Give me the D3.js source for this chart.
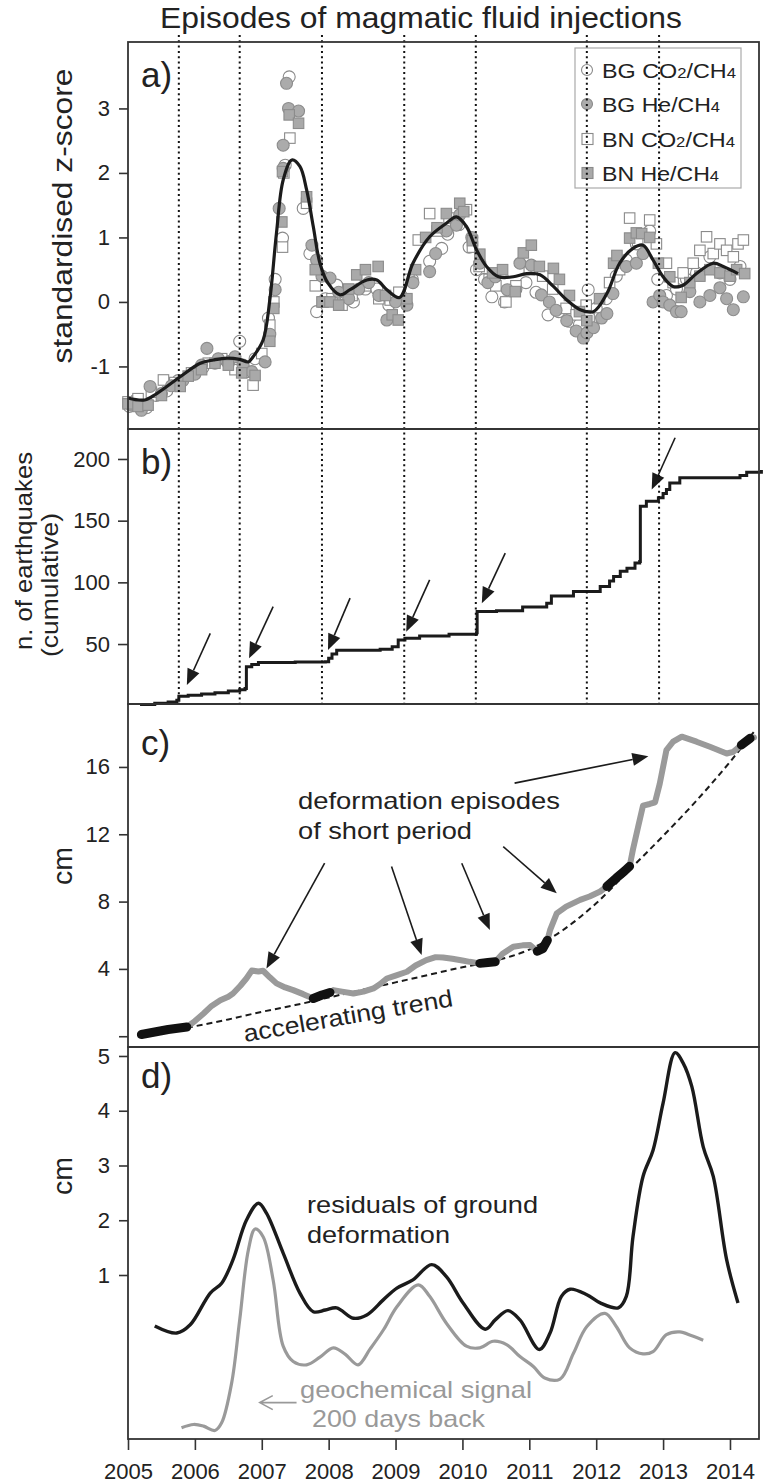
<!DOCTYPE html>
<html><head><meta charset="utf-8">
<script src="https://cdn.jsdelivr.net/npm/d3@7"></script>
<style>body{margin:0;background:#fff} svg text{font-family:"Liberation Sans",Arial,sans-serif;fill:#222}</style>
</head><body><svg id="c" width="773" height="1484"></svg>
<script>
// ---------- DATA ----------
const yearTicks = [2005,2006,2007,2008,2009,2010,2011,2012,2013,2014];
const zTicks = [-1,0,1,2,3];
const quakeTicks = [50,100,150,200];
const cmTicksC = [4,8,12,16];
const cmTicksD = [1,2,3,4,5];
const injections = [2005.76,2006.67,2007.90,2009.13,2010.20,2011.86,2012.94];

const bgCO2 = [[2005.02,-1.62],[2005.12,-1.52],[2005.28,-1.64],[2005.42,-1.45],[2005.58,-1.38],[2005.75,-1.22],[2005.95,-1.12],[2006.12,-1.02],[2006.3,-0.95],[2006.48,-0.92],[2006.62,-1.02],[2006.67,-0.61],[2006.78,-1.08],[2006.9,-0.88],[2007.1,-0.25],[2007.2,0.35],[2007.31,0.99],[2007.35,2.12],[2007.41,3.49],[2007.62,1.45],[2007.72,0.75],[2007.82,-0.15],[2007.95,0.05],[2008.12,0.26],[2008.25,0.1],[2008.37,0.0],[2008.55,0.2],[2008.72,0.2],[2008.9,-0.05],[2009.08,0.1],[2009.25,0.35],[2009.51,0.63],[2009.69,0.83],[2009.78,1.05],[2009.95,1.2],[2010.1,0.85],[2010.21,0.5],[2010.33,0.35],[2010.44,0.08],[2010.63,0.0],[2010.8,0.2],[2010.95,0.3],[2011.1,0.15],[2011.28,-0.2],[2011.44,-0.15],[2011.6,-0.3],[2011.75,-0.35],[2011.88,0.19],[2012.0,-0.1],[2012.15,0.05],[2012.3,0.4],[2012.45,0.65],[2012.6,0.9],[2012.8,1.1],[2012.92,0.35],[2013.05,0.1],[2013.2,0.2],[2013.35,0.35],[2013.5,0.45],[2013.7,0.7],[2013.85,0.45],[2014.0,0.35],[2014.15,0.55]];
const bgHe = [[2005.05,-1.6],[2005.2,-1.68],[2005.33,-1.31],[2005.5,-1.42],[2005.65,-1.3],[2005.82,-1.22],[2006.0,-1.12],[2006.1,-0.98],[2006.18,-0.72],[2006.35,-0.88],[2006.5,-0.95],[2006.6,-0.85],[2006.72,-0.98],[2006.85,-1.08],[2007.05,-0.93],[2007.12,-0.5],[2007.2,0.19],[2007.26,1.45],[2007.32,2.07],[2007.32,2.43],[2007.37,3.39],[2007.40,3.0],[2007.55,2.96],[2007.75,0.88],[2007.82,0.65],[2007.9,0.4],[2008.02,0.37],[2008.15,0.15],[2008.3,0.05],[2008.45,0.2],[2008.6,0.3],[2008.75,0.1],[2008.87,-0.28],[2009.0,0.0],[2009.17,-0.05],[2009.26,0.3],[2009.51,0.47],[2009.6,0.75],[2009.76,1.1],[2009.91,1.19],[2009.96,1.35],[2010.14,1.0],[2010.26,0.6],[2010.38,0.3],[2010.49,0.39],[2010.67,0.19],[2010.86,0.6],[2011.03,0.57],[2011.18,0.11],[2011.30,0.0],[2011.40,-0.13],[2011.56,-0.29],[2011.7,-0.45],[2011.81,-0.56],[2011.86,-0.48],[2011.96,-0.4],[2012.08,-0.25],[2012.16,-0.18],[2012.25,0.13],[2012.45,0.55],[2012.6,0.6],[2012.7,0.75],[2012.85,0.0],[2012.95,0.1],[2013.0,0.0],[2013.1,-0.05],[2013.20,-0.15],[2013.27,-0.15],[2013.4,0.16],[2013.55,0.0],[2013.7,0.1],[2013.85,0.22],[2013.95,0.05],[2014.05,-0.12],[2014.2,0.08]];
const bnCO2 = [[2005.0,-1.55],[2005.15,-1.5],[2005.35,-1.4],[2005.53,-1.21],[2005.7,-1.25],[2005.95,-1.1],[2006.2,-0.95],[2006.4,-0.88],[2006.6,-1.05],[2006.87,-1.29],[2007.0,-0.8],[2007.12,-0.36],[2007.18,0.0],[2007.31,0.85],[2007.33,2.0],[2007.42,2.54],[2007.67,1.53],[2007.8,0.25],[2007.92,0.0],[2008.05,0.05],[2008.2,-0.05],[2008.35,0.1],[2008.55,0.25],[2008.75,0.05],[2008.92,0.03],[2009.05,0.15],[2009.2,0.35],[2009.34,0.96],[2009.51,1.37],[2009.62,1.1],[2009.8,1.3],[2009.9,1.2],[2010.06,1.43],[2010.15,0.85],[2010.25,0.55],[2010.4,0.35],[2010.5,0.25],[2010.65,0.0],[2010.8,0.25],[2011.0,0.5],[2011.2,0.4],[2011.35,0.2],[2011.55,-0.1],[2011.7,-0.2],[2011.85,-0.05],[2012.05,-0.25],[2012.2,0.3],[2012.35,0.5],[2012.5,1.30],[2012.62,0.95],[2012.8,1.27],[2012.9,0.9],[2013.05,0.6],[2013.15,0.3],[2013.3,0.45],[2013.45,0.6],[2013.55,0.8],[2013.65,1.01],[2013.75,0.75],[2013.85,0.9],[2013.95,0.8],[2014.05,0.7],[2014.12,0.9],[2014.2,0.96]];
const bnHe = [[2005.0,-1.58],[2005.15,-1.62],[2005.3,-1.6],[2005.5,-1.45],[2005.78,-1.31],[2005.9,-1.15],[2006.1,-1.05],[2006.3,-0.95],[2006.5,-0.98],[2006.7,-1.1],[2006.9,-1.14],[2007.12,-0.61],[2007.18,-0.1],[2007.30,1.24],[2007.31,2.02],[2007.41,2.90],[2007.55,2.77],[2007.67,1.63],[2007.8,0.5],[2007.9,0.0],[2008.02,0.0],[2008.15,-0.05],[2008.3,0.2],[2008.42,0.42],[2008.55,0.5],[2008.74,0.55],[2008.85,0.1],[2008.95,-0.2],[2009.04,-0.28],[2009.17,0.05],[2009.3,0.5],[2009.45,1.0],[2009.62,1.15],[2009.76,1.37],[2009.96,1.53],[2010.02,1.4],[2010.15,0.95],[2010.26,0.74],[2010.45,0.45],[2010.6,0.5],[2010.79,0.16],[2010.91,0.76],[2011.03,0.88],[2011.15,0.55],[2011.36,0.52],[2011.45,0.35],[2011.6,0.1],[2011.75,-0.15],[2011.86,-0.29],[2012.05,0.05],[2012.26,0.6],[2012.31,0.72],[2012.50,0.99],[2012.6,1.07],[2012.68,1.06],[2012.80,1.0],[2012.93,0.6],[2013.10,0.39],[2013.27,0.07],[2013.4,0.3],[2013.55,0.4],[2013.7,0.5],[2013.85,0.45],[2014.0,0.4],[2014.1,0.5],[2014.22,0.44]];

const zYears = [2005.0,2005.25,2005.43,2005.78,2006.08,2006.28,2006.48,2006.67,2006.80,2006.87,2007.02,2007.12,2007.22,2007.32,2007.45,2007.57,2007.67,2007.77,2007.87,2007.99,2008.17,2008.32,2008.57,2008.72,2008.87,2009.06,2009.26,2009.51,2009.76,2009.91,2010.06,2010.21,2010.36,2010.54,2010.76,2010.96,2011.16,2011.36,2011.56,2011.76,2011.96,2012.16,2012.35,2012.55,2012.70,2012.85,2013.00,2013.15,2013.30,2013.50,2013.75,2013.90,2014.12];
const zValues = [-1.49,-1.52,-1.42,-1.16,-0.95,-0.90,-0.87,-0.89,-0.93,-0.85,-0.59,0.03,1.07,1.89,2.20,2.10,1.74,1.17,0.60,0.29,0.11,0.19,0.34,0.34,0.19,0.07,0.60,1.01,1.22,1.32,1.17,0.81,0.55,0.39,0.39,0.44,0.42,0.24,0.03,-0.12,-0.15,0.13,0.60,0.83,0.88,0.65,0.39,0.24,0.26,0.44,0.60,0.55,0.44];

const quakeYears = [2005.18,2005.4,2005.6,2005.73,2005.76,2005.9,2006.1,2006.3,2006.5,2006.67,2006.75,2006.77,2006.85,2006.95,2007.5,2007.95,2008.0,2008.05,2008.12,2008.77,2008.95,2009.04,2009.14,2009.36,2009.8,2010.21,2010.22,2010.51,2010.9,2011.26,2011.33,2011.66,2012.06,2012.2,2012.26,2012.36,2012.46,2012.58,2012.65,2012.66,2012.75,2012.93,2013.0,2013.05,2013.10,2013.25,2014.15,2014.25,2014.47];
const quakeCounts = [1,2,3,4.5,7.7,8.5,9.5,10.5,12,13,14,31.5,33.5,35,35.5,35.6,38.5,42,45,45.7,47.8,53.2,54.6,56.5,58,59.2,76.3,77,80,83,89,92.5,96.6,101,104.7,109,111.5,115.6,117,161.6,165.7,168.5,172,175.2,180.6,184.7,186.6,189.3,191];

const deformYears = [2005.2,2005.4,2005.6,2005.88,2006.0,2006.13,2006.25,2006.38,2006.5,2006.57,2006.68,2006.77,2006.85,2006.95,2007.02,2007.12,2007.22,2007.35,2007.47,2007.62,2007.77,2007.9,2008.02,2008.07,2008.2,2008.37,2008.52,2008.67,2008.77,2008.87,2009.0,2009.17,2009.3,2009.46,2009.6,2009.71,2009.85,2010.0,2010.11,2010.26,2010.38,2010.49,2010.6,2010.76,2010.9,2011.01,2011.12,2011.2,2011.27,2011.31,2011.41,2011.55,2011.76,2011.9,2012.06,2012.16,2012.3,2012.42,2012.5,2012.55,2012.63,2012.70,2012.8,2012.88,2012.95,2013.05,2013.15,2013.28,2013.5,2013.7,2013.95,2014.05,2014.17,2014.30,2014.36];
const deformCm = [0.1,0.25,0.4,0.55,0.9,1.35,1.8,2.14,2.35,2.54,3.0,3.43,3.9,3.85,3.89,3.5,3.14,2.9,2.74,2.5,2.24,2.45,2.6,2.74,2.65,2.54,2.65,2.84,3.1,3.43,3.6,3.83,4.2,4.52,4.7,4.68,4.6,4.5,4.42,4.33,4.38,4.42,4.9,5.32,5.4,5.42,5.05,5.2,5.7,6.3,7.3,7.7,8.1,8.3,8.6,8.9,9.4,9.8,10.1,11.1,12.5,13.7,13.8,13.9,15.0,17.0,17.5,17.8,17.5,17.2,16.8,16.9,17.3,17.7,17.75];
const trendMatches = [[2005.2,2005.88],[2007.77,2008.02],[2010.26,2010.49],[2011.12,2011.27],[2012.16,2012.5],[2014.17,2014.30]];
const trendYears = [2005.88,2006.5,2007.0,2007.5,2008.0,2008.5,2009.0,2009.5,2010.0,2010.5,2011.0,2011.5,2012.0,2012.5,2013.0,2013.5,2014.0,2014.36];
const trendCm = [0.5,1.0,1.45,1.85,2.3,2.75,3.2,3.65,4.1,4.5,5.15,6.3,7.9,9.9,11.9,14.0,16.3,18.1];

const resYears = [2005.40,2005.73,2005.93,2006.23,2006.40,2006.57,2006.77,2006.95,2007.07,2007.32,2007.57,2007.77,2007.95,2008.12,2008.37,2008.57,2008.82,2009.02,2009.26,2009.54,2009.76,2010.01,2010.34,2010.49,2010.68,2010.86,2011.15,2011.31,2011.48,2011.61,2011.86,2012.06,2012.33,2012.45,2012.55,2012.70,2012.85,2013.00,2013.18,2013.30,2013.43,2013.60,2013.75,2013.95,2014.12];
const resCm = [0.07,-0.06,0.09,0.67,0.85,1.28,2.0,2.31,2.13,1.40,0.67,0.33,0.36,0.40,0.21,0.27,0.55,0.76,0.91,1.19,0.97,0.49,0.01,0.18,0.35,0.18,-0.36,-0.06,0.61,0.74,0.64,0.49,0.40,0.61,1.70,2.80,3.28,4.14,5.06,4.87,4.44,3.34,2.80,1.28,0.49];
const geoYears = [2005.80,2005.98,2006.13,2006.30,2006.40,2006.55,2006.67,2006.80,2006.90,2007.02,2007.17,2007.32,2007.47,2007.67,2007.87,2008.07,2008.25,2008.44,2008.62,2008.82,2009.02,2009.34,2009.51,2009.76,2010.06,2010.26,2010.46,2010.66,2010.86,2011.06,2011.23,2011.46,2011.66,2011.86,2012.13,2012.30,2012.50,2012.70,2012.85,2013.05,2013.25,2013.43,2013.60];
const geoSignal = [-1.79,-1.73,-1.76,-1.84,-1.70,-0.97,0.18,1.46,1.84,1.70,0.91,-0.30,-0.58,-0.64,-0.50,-0.33,-0.45,-0.64,-0.35,0.0,0.42,0.82,0.61,0.12,-0.30,-0.33,-0.21,-0.27,-0.49,-0.67,-0.88,-0.90,-0.43,0.06,0.30,0.06,-0.33,-0.44,-0.40,-0.09,-0.04,-0.11,-0.19];

// ---------- LAYOUT ----------
const svg = d3.select("#c");
const X0 = 128, X1 = 759;
const P = {a:[42,429], b:[429,704], c:[704,1047], d:[1047,1439]};
const x = d3.scaleLinear().domain([2005, 2014.434]).range([X0, X1]);
const ya = d3.scaleLinear().domain([-1.97, 4.03]).range([P.a[1], P.a[0]]);
const yb = d3.scaleLinear().domain([1.4, 224.3]).range([P.b[1], P.b[0]]);
const yc = d3.scaleLinear().domain([-0.64, 19.74]).range([P.c[1], P.c[0]]);
const yd = d3.scaleLinear().domain([-1.995, 5.164]).range([P.d[1], P.d[0]]);
const INK = "#1b1b1b", GREY = "#9a9a9a";

function txt(g, s, o) {
  const t = g.append("text").text(s);
  for (const k in o) t.attr(k, o[k]);
  return t;
}
function arrow(g, x1, y1, x2, y2, color, hl, hw) {
  const a = Math.atan2(y2 - y1, x2 - x1);
  const bx = x2 - hl * Math.cos(a), by = y2 - hl * Math.sin(a);
  g.append("line").attr("x1", x1).attr("y1", y1).attr("x2", bx).attr("y2", by)
    .attr("stroke", color).attr("stroke-width", 1.6);
  const px = Math.sin(a) * hw / 2, py = -Math.cos(a) * hw / 2;
  g.append("path").attr("d", `M${x2},${y2}L${bx+px},${by+py}L${bx-px},${by-py}Z`).attr("fill", color);
}

// Title
txt(svg, "Episodes of magmatic fluid injections", {x:160, y:28, "font-size":29, textLength:522, lengthAdjust:"spacingAndGlyphs"});

// ---------- PANEL A ----------
const ga = svg.append("g");
const sq = 10.5, rr = 6;
function drawCircles(data, fill, stroke) {
  ga.selectAll(null).data(data).enter().append("circle")
    .attr("cx", d => x(d[0])).attr("cy", d => ya(d[1])).attr("r", rr)
    .attr("fill", fill).attr("stroke", stroke).attr("stroke-width", 1.1);
}
function drawSquares(data, fill, stroke) {
  ga.selectAll(null).data(data).enter().append("rect")
    .attr("x", d => x(d[0]) - sq/2).attr("y", d => ya(d[1]) - sq/2).attr("width", sq).attr("height", sq)
    .attr("fill", fill).attr("stroke", stroke).attr("stroke-width", 1.1);
}
drawCircles(bgCO2, "#fff", "#8a8a8a");
drawSquares(bnCO2, "#fff", "#8a8a8a");
drawCircles(bgHe, "#ababab", "#8c8c8c");
drawSquares(bnHe, "#a9a9a9", "#8c8c8c");
ga.append("path").datum(zYears.map((d,i)=>[d,zValues[i]]))
  .attr("d", d3.line().x(d=>x(d[0])).y(d=>ya(d[1])).curve(d3.curveCatmullRom.alpha(0.5)))
  .attr("fill","none").attr("stroke", INK).attr("stroke-width", 3.2);

// legend
const lg = svg.append("g");
lg.append("rect").attr("x",575).attr("y",48).attr("width",166).attr("height",140).attr("fill","#fff").attr("stroke","#aaa").attr("stroke-width",1.2);
const legendRows = [
  {y:70, kind:"c", fill:"#fff", pre:"BG CO", mid:"/CH", len:134},
  {y:104, kind:"c", fill:"#ababab", pre:"BG He", mid:"/CH", len:118},
  {y:139, kind:"s", fill:"#fff", pre:"BN CO", mid:"/CH", len:133},
  {y:173, kind:"s", fill:"#a9a9a9", pre:"BN He", mid:"/CH", len:117}
];
legendRows.forEach(r => {
  if (r.kind === "c") lg.append("circle").attr("cx",587).attr("cy",r.y).attr("r",5.5).attr("fill",r.fill).attr("stroke","#8a8a8a").attr("stroke-width",1.1);
  else lg.append("rect").attr("x",582).attr("y",r.y-5.5).attr("width",11).attr("height",11).attr("fill",r.fill).attr("stroke","#8a8a8a").attr("stroke-width",1.1);
  const t = lg.append("text").attr("x",602).attr("y",r.y+7.5).attr("font-size",21).attr("textLength",r.len).attr("lengthAdjust","spacingAndGlyphs");
  t.append("tspan").text(r.pre);
  if (r.pre.endsWith("CO")) t.append("tspan").attr("font-size",15).text("2");
  t.append("tspan").text(r.mid);
  t.append("tspan").attr("font-size",15).text("4");
});

// ---------- PANEL B ----------
const gb = svg.append("g");
gb.append("path").datum(quakeYears.map((d,i)=>[d,quakeCounts[i]]))
  .attr("d", d3.line().x(d=>x(d[0])).y(d=>yb(d[1])).curve(d3.curveStepAfter))
  .attr("fill","none").attr("stroke", INK).attr("stroke-width", 3);
const quakeArrows = [[2006.23,58.7,2005.88,16.7],[2007.17,80.3,2006.81,38.4],[2008.32,87.2,2007.99,45.1],[2009.51,102,2009.16,60],[2010.64,123.7,2010.29,83.1],[2013.18,217.2,2012.83,175.2]];
quakeArrows.forEach(a => arrow(gb, x(a[0]), yb(a[1]), x(a[2]), yb(a[3]), INK, 16, 13));

// ---------- PANEL C ----------
const gc = svg.append("g");
const cLine = d3.line().x(d=>x(d[0])).y(d=>yc(d[1])).curve(d3.curveMonotoneX);
gc.append("path").datum(trendYears.map((d,i)=>[d,trendCm[i]])).attr("d", cLine)
  .attr("fill","none").attr("stroke", INK).attr("stroke-width", 2).attr("stroke-dasharray","6,4");
const deformPts = deformYears.map((d,i)=>[d,deformCm[i]]);
gc.append("path").datum(deformPts).attr("d", d3.line().x(d=>x(d[0])).y(d=>yc(d[1])))
  .attr("fill","none").attr("stroke", GREY).attr("stroke-width", 6).attr("stroke-linejoin","round").attr("stroke-linecap","round");
trendMatches.forEach(r => {
  const seg = deformPts.filter(d => d[0] >= r[0] - 1e-6 && d[0] <= r[1] + 1e-6);
  gc.append("path").datum(seg).attr("d", d3.line().x(d=>x(d[0])).y(d=>yc(d[1])))
    .attr("fill","none").attr("stroke", "#111").attr("stroke-width", 9).attr("stroke-linejoin","round").attr("stroke-linecap","round");
});
const deformArrows = [[2007.94,10.28,2007.07,4.03],[2008.94,10.08,2009.39,4.82],[2009.99,10.28,2010.41,6.31],[2010.61,11.27,2011.41,8.49],[2010.78,15.04,2012.78,16.63]];
deformArrows.forEach(a => arrow(gc, x(a[0]), yc(a[1]), x(a[2]), yc(a[3]), INK, 16, 13));
txt(gc, "deformation episodes", {x:298, y:809, "font-size":24, textLength:262, lengthAdjust:"spacingAndGlyphs"});
txt(gc, "of short period", {x:298, y:839, "font-size":24, textLength:174, lengthAdjust:"spacingAndGlyphs"});
txt(gc, "accelerating trend", {x:0, y:0, "font-size":24, textLength:212, lengthAdjust:"spacingAndGlyphs", transform:"translate(245,1042) rotate(-9.8)"});

// ---------- PANEL D ----------
const gd = svg.append("g");
const dLine = d3.line().x(d=>x(d[0])).y(d=>yd(d[1])).curve(d3.curveCatmullRom.alpha(0.5));
gd.append("path").datum(geoYears.map((d,i)=>[d,geoSignal[i]])).attr("d", dLine)
  .attr("fill","none").attr("stroke", GREY).attr("stroke-width", 3.2);
gd.append("path").datum(resYears.map((d,i)=>[d,resCm[i]])).attr("d", dLine)
  .attr("fill","none").attr("stroke", INK).attr("stroke-width", 3.4);
txt(gd, "residuals of ground", {x:307, y:1213, "font-size":24, textLength:231, lengthAdjust:"spacingAndGlyphs"});
txt(gd, "deformation", {x:307, y:1243, "font-size":24, textLength:143, lengthAdjust:"spacingAndGlyphs"});
txt(gd, "geochemical signal", {x:300, y:1398, "font-size":24, textLength:232, lengthAdjust:"spacingAndGlyphs", style:"fill:#999"});
txt(gd, "200 days back", {x:312, y:1427, "font-size":24, textLength:173, lengthAdjust:"spacingAndGlyphs", style:"fill:#999"});
{
  const tx = x(2006.97), ty = yd(-1.33), ex = x(2007.52);
  gd.append("path").attr("d", `M${ex},${ty}L${tx},${ty}M${tx+13},${ty-7}L${tx},${ty}L${tx+13},${ty+7}`)
    .attr("fill","none").attr("stroke","#999").attr("stroke-width",1.6);
}

// ---------- INJECTION LINES ----------
svg.append("g").selectAll("line").data(injections).enter().append("line")
  .attr("x1", d=>x(d)).attr("x2", d=>x(d)).attr("y1", 35).attr("y2", P.b[1])
  .attr("stroke", "#111").attr("stroke-width", 2).attr("stroke-dasharray", "2,3.3");

// ---------- FRAMES ----------
Object.values(P).forEach(p => {
  svg.append("rect").attr("x", X0).attr("y", p[0]).attr("width", X1 - X0).attr("height", p[1] - p[0])
    .attr("fill","none").attr("stroke","#333").attr("stroke-width",1.8);
});

// ---------- AXES ----------
const plain = d => String(d);
function styleAxis(g) {
  g.select(".domain").remove();
  g.selectAll(".tick line").attr("stroke","#333").attr("stroke-width",1.6);
  g.selectAll(".tick text").attr("font-size",22).style("fill","#222").attr("font-family",'"Liberation Sans",Arial,sans-serif');
}
svg.append("g").attr("transform",`translate(${X0},0)`).call(d3.axisLeft(ya).tickValues(zTicks).tickSize(9).tickPadding(9).tickFormat(plain)).call(styleAxis);
svg.append("g").attr("transform",`translate(${X0},0)`).call(d3.axisLeft(yb).tickValues(quakeTicks).tickSize(10).tickPadding(8).tickFormat(plain)).call(styleAxis);
svg.append("g").attr("transform",`translate(${X0},0)`).call(d3.axisLeft(yc).tickValues([0].concat(cmTicksC)).tickSize(9).tickPadding(9).tickFormat(d => d === 0 ? "" : String(d))).call(styleAxis);
svg.append("g").attr("transform",`translate(${X0},0)`).call(d3.axisLeft(yd).tickValues(cmTicksD).tickSize(9).tickPadding(9).tickFormat(plain)).call(styleAxis);
svg.append("g").attr("transform",`translate(0,${P.d[1]})`).call(d3.axisBottom(x).tickValues(yearTicks).tickSize(11).tickPadding(13).tickFormat(plain)).call(styleAxis);

// ---------- LABELS ----------
const lab = {"font-size":35};
txt(svg, "a)", Object.assign({x:141, y:87}, lab));
txt(svg, "b)", Object.assign({x:141, y:474}, lab));
txt(svg, "c)", Object.assign({x:141, y:755}, lab));
txt(svg, "d)", Object.assign({x:141, y:1088}, lab));

function vlabel(s, cx, cy, fs, len) {
  txt(svg, s, {x:0, y:0, "font-size":fs, "text-anchor":"middle", textLength:len, lengthAdjust:"spacingAndGlyphs", transform:`translate(${cx},${cy}) rotate(-90)`});
}
vlabel("standardised z-score", 72, 216, 27, 295);
vlabel("n. of earthquakes", 32, 551, 24, 198);
vlabel("(cumulative)", 58, 585, 24, 144);
vlabel("cm", 72, 866, 28, 38);
vlabel("cm", 72, 1176, 28, 38);
</script></body></html>
